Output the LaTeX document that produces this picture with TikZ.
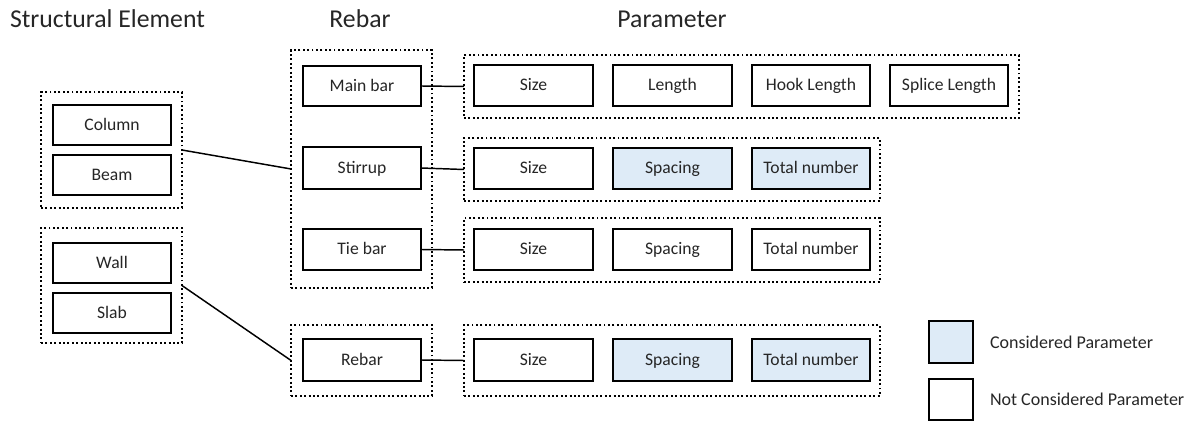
\documentclass[tikz,border=0pt]{standalone}
\usepackage{fontspec}
\setmainfont{Carlito}
\definecolor{consfill}{HTML}{DEEBF7}
\definecolor{txt}{HTML}{262626}
\newcommand\pbox[7]{%
  \pgfmathsetmacro\bw{(#5-#3)*0.75-1.6}%
  \pgfmathsetmacro\bh{(#6-#4)*0.75-1.6}%
  \node[#1, minimum width=\bw pt, minimum height=\bh pt] (#2) at ({(#3+#5)/2},{(#4+#6)/2}) {#7};%
}
\begin{document}
\begin{tikzpicture}[x=0.75pt,y=-0.75pt,
  every node/.style={inner sep=0pt, outer sep=0pt, text=txt, font=\fontsize{13.2}{15}\selectfont,
    text height=0.76em, text depth=0em},
  boxw/.style={draw=black, line width=1.7pt, fill=white},
  boxc/.style={draw=black, line width=1.7pt, fill=consfill},
  grp/.style={draw=black, line width=1.6pt, dash pattern=on 1.4pt off 1.9pt},
  conn/.style={draw=black, line width=1.1pt},
  head/.style={font=\fontsize{19.3}{22}\selectfont},
  legt/.style={font=\fontsize{13.5}{16}\selectfont}]
\useasboundingbox (0,0) rectangle (1194,423);
% headings
\node[head, anchor=west] (h1) at (10,22) {Structural Element};
\node[head] (h2) at (360,22) {Rebar};
\node[head] (h3) at (672,22) {Parameter};
% structural element groups
\pbox{grp}{se1}{40}{91}{183}{209}{}
\pbox{boxw}{col}{52}{104}{172}{146}{Column}
\pbox{boxw}{beam}{52}{154}{172}{196}{Beam}
\pbox{grp}{se2}{40}{227}{183}{344}{}
\pbox{boxw}{wall}{52}{242}{172}{284}{Wall}
\pbox{boxw}{slab}{52}{292}{172}{334}{Slab}
% rebar groups
\pbox{grp}{rb1}{290}{49}{433}{289}{}
\pbox{boxw}{main}{302}{65}{422}{107}{Main bar}
\pbox{boxw}{stir}{302}{146}{422}{190}{Stirrup}
\pbox{boxw}{tie}{302}{228}{422}{271}{Tie bar}
\pbox{grp}{rb2}{290}{324}{433}{397}{}
\pbox{boxw}{reb}{302}{338}{422}{382}{Rebar}
% parameter groups
\pbox{grp}{p1}{463}{54}{1020}{119}{}
\pbox{boxw}{p1a}{473}{64}{594}{107}{Size}
\pbox{boxw}{p1b}{612}{64}{733}{107}{Length}
\pbox{boxw}{p1c}{751}{64}{871}{107}{Hook Length}
\pbox{boxw}{p1d}{889}{64}{1009}{107}{Splice Length}
\pbox{grp}{p2}{463}{137}{881}{202}{}
\pbox{boxw}{p2a}{473}{147}{594}{190}{Size}
\pbox{boxc}{p2b}{612}{147}{733}{190}{Spacing}
\pbox{boxc}{p2c}{751}{147}{871}{190}{Total number}
\pbox{grp}{p3}{463}{217}{881}{283}{}
\pbox{boxw}{p3a}{473}{228}{594}{271}{Size}
\pbox{boxw}{p3b}{612}{228}{733}{271}{Spacing}
\pbox{boxw}{p3c}{751}{228}{871}{271}{Total number}
\pbox{grp}{p4}{463}{324}{881}{397}{}
\pbox{boxw}{p4a}{473}{338}{594}{382}{Size}
\pbox{boxc}{p4b}{612}{338}{733}{382}{Spacing}
\pbox{boxc}{p4c}{751}{338}{871}{382}{Total number}
% legend
\pbox{boxc}{lg1}{928}{320}{974}{364}{}
\pbox{boxw}{lg2}{928}{378}{974}{421}{}
\node[legt, anchor=west] (lt1) at (990,343) {Considered Parameter};
\node[legt, anchor=west] (lt2) at (990,400) {Not Considered Parameter};
% connectors
\draw[conn] (se1.east) -- (rb1.west);
\draw[conn] (se2.east) -- (rb2.west);
\draw[conn] (main.east) -- (p1.west);
\draw[conn] (stir.east) -- (p2.west);
\draw[conn] (tie.east) -- (p3.west);
\draw[conn] (reb.east) -- (p4.west);
\end{tikzpicture}
\end{document}
